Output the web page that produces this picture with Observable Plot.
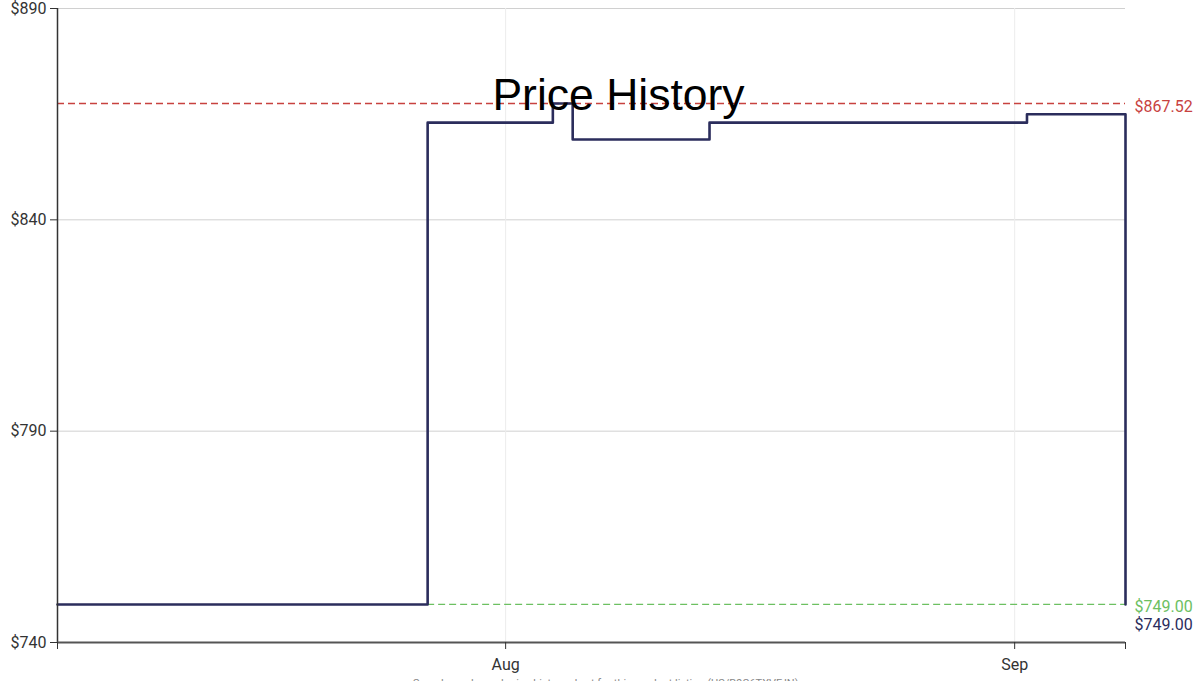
<!DOCTYPE html>
<html>
<head>
<meta charset="utf-8">
<script src="https://cdn.jsdelivr.net/npm/d3@7"></script>
<script src="https://cdn.jsdelivr.net/npm/@observablehq/plot@0.6"></script>
<style>
  html, body { margin: 0; padding: 0; background: #fff; overflow: hidden; }
  #wrap { position: relative; width: 1200px; height: 681px; }
  #title { position: absolute; top: 70px; left: 0; width: 1237px; text-align: center;
           font-family: "Liberation Sans", Arial, sans-serif; font-size: 44.5px; color: #000; pointer-events: none; }
</style>
</head>
<body>
<div id="wrap">
  <div id="chart"></div>
  <div id="title">Price History</div>
</div>
<script>
// Price history (step series)
const dates = [
  "2023-07-04T17:00", "2023-07-27T06:00", "2023-08-03T21:00", "2023-08-05T02:00",
  "2023-08-13T10:00", "2023-09-01T18:00", "2023-09-07T18:00"
];
const prices = [749.00, 862.99, 867.52, 858.99, 862.99, 864.99, 749.00];

const yTicks = [740, 790, 840, 890];
const xTickDates = ["2023-08-01T00:00", "2023-09-01T00:00"];
const highestPrice = 867.52;
const lowestPrice = 749.00;
const currentPrice = 749.00;
const captionText = "Camelcamelcamel price history chart for this product listing (US/B0C6TXVFJN)";

const parse = d3.isoParse;
const data = dates.map((d, i) => ({date: parse(d), price: prices[i]}));
const xStart = data[0].date, xEnd = data[data.length - 1].date;

const fmt = v => "$" + v.toFixed(2);

const chart = Plot.plot({
  width: 1200,
  height: 681,
  marginLeft: 57,
  marginRight: 75,
  marginTop: 8,
  marginBottom: 39,
  style: {fontFamily: "Roboto, sans-serif", fontSize: "16px", color: "#333", overflow: "visible"},
  x: {type: "time", domain: [xStart, xEnd]},
  y: {domain: [740, 890]},
  marks: [
    Plot.gridY(yTicks, {stroke: "#d0d0d0", strokeOpacity: 1}),
    Plot.gridX(xTickDates.map(parse), {stroke: "#ececec", strokeOpacity: 1}),
    Plot.ruleY([highestPrice], {stroke: "#c8423f", strokeDasharray: "7,4", strokeWidth: 1.3}),
    Plot.ruleY([lowestPrice], {x1: data[1].date, x2: xEnd, stroke: "#6cc061", strokeDasharray: "7,4", strokeWidth: 1.3}),
    Plot.line(data, {x: "date", y: "price", curve: "step-after", stroke: "#2b2d5c", strokeWidth: 2.6}),
    Plot.ruleX([xStart], {stroke: "#333", strokeWidth: 1.5}),
    Plot.ruleY([740], {stroke: "#555", strokeWidth: 2}),
    Plot.axisY(yTicks, {tickFormat: d => "$" + d, tickSize: 7, tickPadding: 4, fontSize: 16, fill: "#333", stroke: "#333", label: null}),
    Plot.axisX(xTickDates.map(parse), {tickFormat: d3.timeFormat("%b"), tickSize: 7, tickPadding: 9, fontSize: 16, fill: "#333", stroke: "#333", label: null}),
    Plot.axisX([xStart, xEnd], {tickFormat: () => "", tickSize: 7, stroke: "#333", label: null}),
    Plot.text([highestPrice], {x: xEnd, y: d => d, text: d => fmt(d), dx: 9, dy: 3, textAnchor: "start", fill: "#c8423f", fontSize: 16}),
    Plot.text([lowestPrice], {x: xEnd, y: d => d, text: d => fmt(d), dx: 9, dy: 2, textAnchor: "start", fill: "#6cc061", fontSize: 16}),
    Plot.text([currentPrice], {x: xEnd, y: d => d, text: d => fmt(d), dx: 9, dy: 20, textAnchor: "start", fill: "#2b2d5c", fontSize: 16}),
    Plot.text([captionText], {frameAnchor: "bottom", dy: 44, text: d => d, fill: "#888", fontSize: 11, dx: 14})
  ]
});
document.getElementById("chart").appendChild(chart);
</script>
</body>
</html>
